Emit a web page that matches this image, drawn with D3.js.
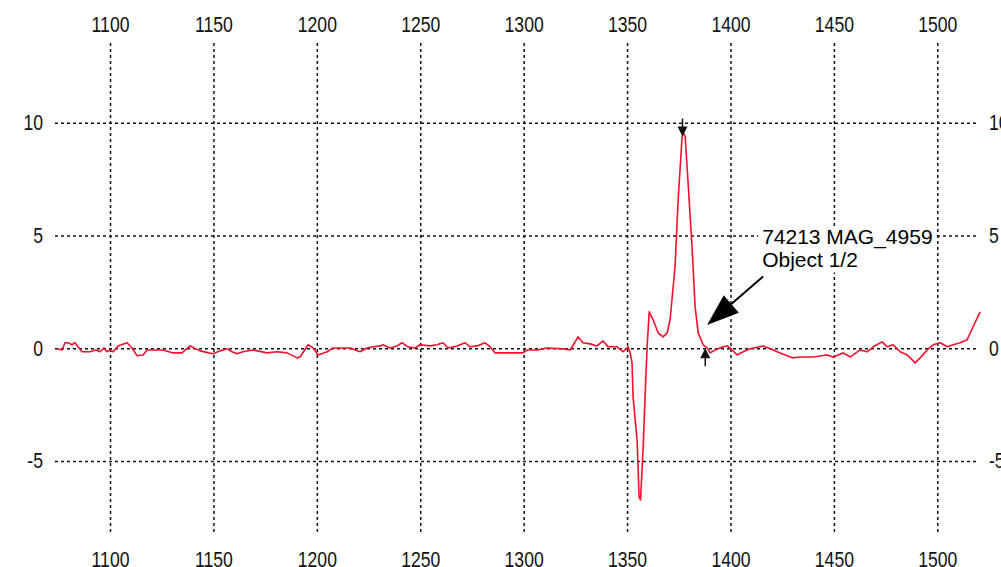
<!DOCTYPE html>
<html>
<head>
<meta charset="utf-8">
<script src="https://cdn.jsdelivr.net/npm/d3@7"></script>
<style>
  body { margin: 0; background: #fff; }
  svg { display: block; font-family: "Liberation Sans", Arial, sans-serif; }
  .grid line { stroke: #111; stroke-width: 1.5; stroke-dasharray: 3,3; }
  .grid path, .lbl path, .lbl line { display: none; }
  .lbl text { font-size: 22px; fill: #111; }
</style>
</head>
<body>
<svg id="chart" width="1001" height="567"></svg>
<script>
// tick values
const xTicks = [1100, 1150, 1200, 1250, 1300, 1350, 1400, 1450, 1500];
const yTicks = [-5, 0, 5, 10];

// trace
const traceX = [1074.4, 1076.8, 1078.2, 1079.7, 1081.6, 1083.1, 1084.5, 1086.5, 1090.3, 1093.2,
    1095.2, 1097.1, 1098.5, 1100.0, 1101.5, 1103.9, 1108.2, 1110.6, 1113.1, 1116.0,
    1117.9, 1125.6, 1130.5, 1134.8, 1138.7, 1143.5, 1149.8, 1153.2, 1156.6, 1159.0,
    1161.4, 1164.3, 1169.2, 1175.9, 1180.8, 1185.6, 1190.4, 1191.9, 1195.8, 1198.2,
    1200.6, 1205.0, 1207.8, 1216.1, 1220.9, 1224.3, 1227.2, 1230.6, 1232.0, 1235.4,
    1238.8, 1241.2, 1244.1, 1247.5, 1249.9, 1254.8, 1258.1, 1261.0, 1263.5, 1267.8,
    1271.7, 1274.1, 1277.5, 1281.3, 1283.8, 1286.2, 1299.7, 1301.7, 1306.5, 1311.3,
    1319.1, 1322.5, 1326.3, 1328.7, 1332.1, 1335.5, 1338.4, 1340.8, 1345.2, 1348.1,
    1350.5, 1351.5, 1352.4, 1352.9, 1354.9, 1355.8, 1356.5, 1357.8, 1358.7, 1359.7,
    1360.7, 1362.6, 1365.0, 1367.4, 1369.4, 1370.8, 1373.2, 1374.7, 1376.6, 1377.1,
    1378.1, 1379.5, 1381.5, 1382.9, 1384.4, 1386.8, 1388.7, 1390.2, 1392.6, 1396.4,
    1398.4, 1400.8, 1403.2, 1406.1, 1409.5, 1415.8, 1419.2, 1424.0, 1429.8, 1433.7,
    1440.0, 1446.7, 1449.6, 1454.5, 1457.9, 1462.7, 1466.1, 1469.0, 1473.3, 1475.8,
    1478.7, 1482.0, 1485.4, 1489.3, 1491.7, 1495.1, 1498.0, 1501.4, 1504.8, 1507.7,
    1511.1, 1514.4, 1517.3, 1520.7];
const traceY = [-0.03, -0.08, 0.24, 0.24, 0.15, 0.24, 0.06, -0.16, -0.16, -0.08,
    -0.16, 0.01, -0.16, -0.08, -0.16, 0.10, 0.24, 0.01, -0.34, -0.30,
    -0.08, -0.08, -0.21, -0.21, 0.10, -0.12, -0.25, -0.12, -0.03, -0.16,
    -0.25, -0.16, -0.08, -0.21, -0.16, -0.21, -0.43, -0.39, 0.15, 0.01,
    -0.30, -0.16, 0.01, 0.01, -0.16, 0.01, 0.06, 0.10, 0.15, 0.01,
    0.10, 0.24, 0.06, 0.01, 0.15, 0.10, 0.15, 0.24, 0.01, 0.10,
    0.24, 0.06, 0.10, 0.24, 0.06, -0.21, -0.21, -0.08, -0.08, 0.01,
    -0.03, -0.08, 0.50, 0.24, 0.19, 0.10, 0.32, 0.06, 0.06, -0.16,
    0.06, -0.21, -0.65, -2.16, -4.14, -6.60, -6.73, -4.38, -2.16, 0.06,
    1.61, 1.26, 0.68, 0.50, 0.68, 1.26, 3.61, 6.58, 9.38, 9.56,
    9.38, 7.34, 4.36, 1.83, 0.68, 0.15, 0.01, -0.21, -0.08, 0.06,
    0.10, -0.08, -0.30, -0.16, -0.03, 0.10, -0.03, -0.21, -0.43, -0.39,
    -0.39, -0.30, -0.39, -0.21, -0.39, -0.08, -0.16, 0.06, 0.28, 0.06,
    0.15, -0.16, -0.30, -0.65, -0.43, -0.08, 0.15, 0.24, 0.06, 0.15,
    0.24, 0.37, 0.95, 1.61];

// markers and callout
const peakMark = [1376.8, 9.56];
const baseMark = [1387.8, 0.0];
const calloutLines = ["74213 MAG_4959", "Object 1/2"];
const calloutAt = [1415.3, 5.0];
const calloutTip = [1388.7, 1.03];

const svg = d3.select("#chart");
const W = +svg.attr("width"), H = +svg.attr("height");

const x = d3.scaleLinear().domain([1046.8, 1530.8]).range([0, W]);
const y = d3.scaleLinear().domain([-5, 10]).range([460.9, 122.7]);

const gTop = 43, gBottom = 535, gLeft = 55, gRight = 977;
const fmt = d => String(d);

// squeeze tick labels a bit, the original font is narrow
function narrow(sel) {
    sel.selectAll("text").each(function () {
        const len = this.getComputedTextLength();
        d3.select(this).attr("textLength", len * 0.8).attr("lengthAdjust", "spacingAndGlyphs");
    });
}

// grid
svg.append("g").attr("class", "grid")
    .attr("transform", `translate(0,${gTop})`)
    .call(d3.axisBottom(x).tickValues(xTicks).tickSize(gBottom - gTop).tickFormat(""));
svg.append("g").attr("class", "grid")
    .attr("transform", `translate(${gLeft},0)`)
    .call(d3.axisRight(y).tickValues(yTicks).tickSize(gRight - gLeft).tickFormat(""));

// labels
svg.append("g").attr("class", "lbl")
    .attr("transform", `translate(0,${gTop})`)
    .call(d3.axisTop(x).tickValues(xTicks).tickSize(0).tickPadding(11).tickFormat(fmt))
    .call(narrow);
svg.append("g").attr("class", "lbl")
    .attr("transform", `translate(0,${gBottom})`)
    .call(d3.axisBottom(x).tickValues(xTicks).tickSize(0).tickPadding(16).tickFormat(fmt))
    .call(narrow);
svg.append("g").attr("class", "lbl")
    .attr("transform", `translate(${gLeft},0)`)
    .call(d3.axisLeft(y).tickValues(yTicks).tickSize(0).tickPadding(12).tickFormat(fmt))
    .call(narrow);
svg.append("g").attr("class", "lbl")
    .attr("transform", `translate(${gRight},0)`)
    .call(d3.axisRight(y).tickValues(yTicks).tickSize(0).tickPadding(12).tickFormat(fmt))
    .call(narrow);

// trace
const pts = traceX.map((d, i) => [d, traceY[i]]);
svg.append("path")
    .datum(pts)
    .attr("fill", "none")
    .attr("stroke", "#f2102e")
    .attr("stroke-width", 1.6)
    .attr("stroke-linejoin", "round")
    .attr("d", d3.line().x(d => x(d[0])).y(d => y(d[1])));

// small pick arrows
function pickArrow(px, py, dir) {
    // dir = 1 points down (sits above), -1 points up (sits below)
    const g = svg.append("g").attr("transform", `translate(${px},${py})`);
    g.append("line").attr("x1", 0).attr("x2", 0)
        .attr("y1", -dir * 18).attr("y2", -dir * 8)
        .attr("stroke", "#111").attr("stroke-width", 1.5);
    g.append("path").attr("d", `M0,0 L-5,${-dir * 10} L5,${-dir * 10} Z`).attr("fill", "#111");
}
pickArrow(x(peakMark[0]), y(peakMark[1]) + 4, 1);
pickArrow(x(baseMark[0]), y(baseMark[1]), -1);

// callout
const cx = x(calloutAt[0]), cy = y(calloutAt[1]);
const cg = svg.append("g").attr("font-size", "21px").attr("fill", "#000");
const t1 = cg.append("text").attr("x", cx).attr("y", cy + 9).text(calloutLines[0]);
cg.append("text").attr("x", cx).attr("y", cy + 32).text(calloutLines[1]);
const bw = t1.node().getComputedTextLength();
cg.insert("rect", "text")
    .attr("x", cx - 4).attr("y", cy - 9)
    .attr("width", bw + 6).attr("height", 46)
    .attr("fill", "#fff");

const tipX = x(calloutTip[0]), tipY = y(calloutTip[1]);
const fromX = cx + 1, fromY = cy + 41;
const ang = Math.atan2(tipY - fromY, tipX - fromX);
const headLen = 32, headW = 11.5;
const bx = tipX - headLen * Math.cos(ang), by = tipY - headLen * Math.sin(ang);
svg.append("line")
    .attr("x1", fromX).attr("y1", fromY).attr("x2", bx).attr("y2", by)
    .attr("stroke", "#000").attr("stroke-width", 2);
svg.append("path")
    .attr("d", `M${tipX},${tipY} L${bx + headW * Math.sin(ang)},${by - headW * Math.cos(ang)} L${bx - headW * Math.sin(ang)},${by + headW * Math.cos(ang)} Z`)
    .attr("fill", "#000");
</script>
</body>
</html>
